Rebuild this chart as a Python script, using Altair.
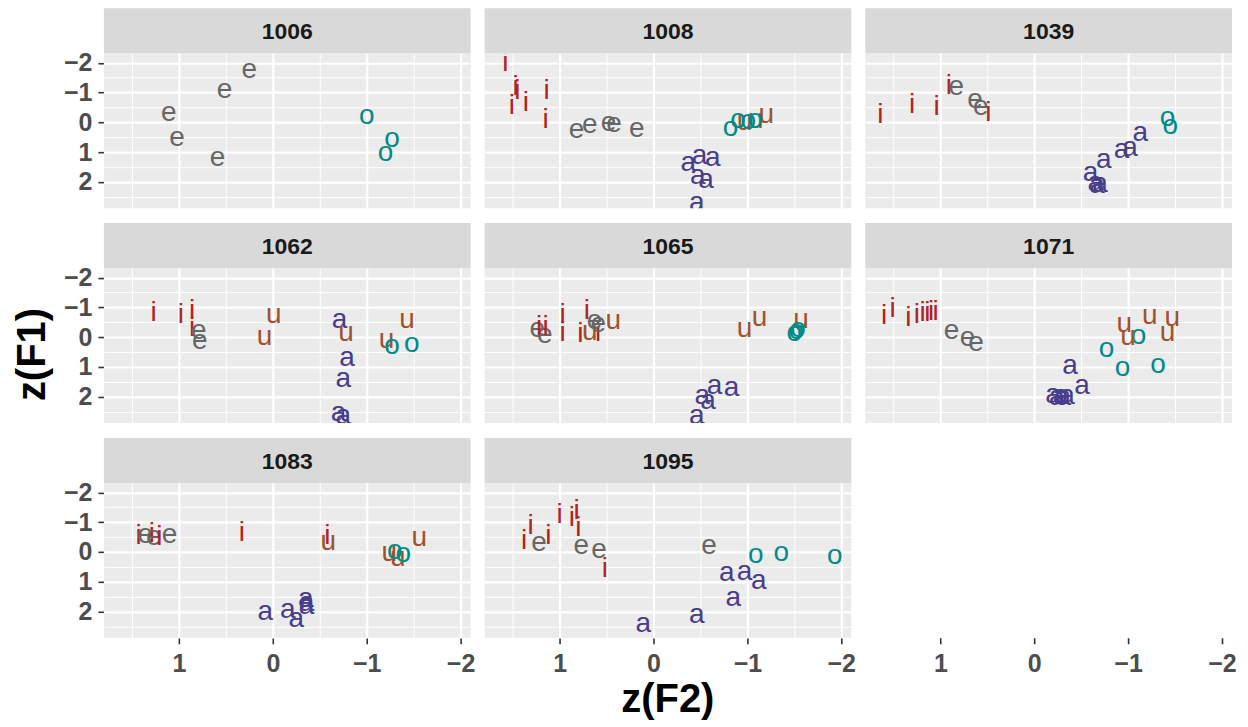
import altair as alt
import pandas as pd

FONT = "Liberation Sans"
VOWELS = ["i", "e", "a", "o", "u"]
VOWEL_COLORS = ["#B22222", "#666666", "#483D8B", "#008B8B", "#A0522D"]

# ---- per speaker data: vowel label, z(F2), z(F1) ----
s1006_v = ["e", "e", "e", "e", "e", "o", "o", "o"]
s1006_f2 = [0.25, 0.515, 1.11, 1.02, 0.59, -1.0, -1.27, -1.20]
s1006_f1 = [-1.77, -1.07, -0.32, 0.52, 1.19, -0.22, 0.56, 1.03]

s1008_v = ["i", "i", "i", "i", "i", "i", "i", "e", "e", "e", "e", "e",
           "u", "u", "u", "o", "o", "o", "o", "a", "a", "a", "a", "a", "a"]
s1008_f2 = [1.58, 1.47, 1.45, 1.51, 1.36, 1.14, 1.15, 0.82, 0.68, 0.48, 0.42, 0.18,
            -0.97, -1.09, -1.20, -0.82, -0.90, -1.01, -1.08, -0.37, -0.49, -0.63, -0.47, -0.56, -0.46]
s1008_f1 = [-2.0, -1.2, -1.05, -0.54, -0.65, -1.04, -0.09, 0.27, 0.08, 0.03, 0.06, 0.22,
            0.0, -0.09, -0.26, 0.19, -0.09, -0.03, -0.09, 1.36, 1.14, 1.19, 1.81, 1.92, 2.70]

s1039_v = ["i", "i", "i", "i", "i", "e", "e", "e", "a", "a", "a", "a", "a", "a", "a", "a", "o", "o"]
s1039_f2 = [1.64, 1.30, 1.04, 0.91, 0.49, 0.83, 0.63, 0.57, -0.60, -0.65, -0.67, -0.70,
            -0.74, -0.93, -1.02, -1.13, -1.42, -1.45]
s1039_f1 = [-0.26, -0.59, -0.52, -1.21, -0.32, -1.19, -0.76, -0.52, 1.70, 2.05, 2.10, 2.08,
            1.25, 0.92, 0.86, 0.36, -0.15, 0.13]

s1062_v = ["i", "i", "i", "i", "e", "e", "u", "u", "a", "u", "u", "u", "a", "a", "a", "a", "o", "o"]
s1062_f2 = [1.27, 0.98, 0.86, 0.86, 0.79, 0.78, -0.01, 0.09, -0.71, -0.78, -1.21, -1.43,
            -0.79, -0.75, -0.70, -0.75, -1.27, -1.48]
s1062_f1 = [-0.82, -0.76, -0.87, -0.31, -0.20, 0.13, -0.76, 0.0, -0.56, -0.15, 0.11, -0.59,
            0.71, 1.42, 2.54, 2.65, 0.30, 0.22]

s1065_v = ["e", "e", "i", "i", "i", "i", "i", "i", "u", "i", "e", "e", "u",
           "u", "u", "u", "o", "o", "o", "a", "a", "a", "a", "a"]
s1065_f2 = [1.24, 1.16, 1.22, 1.15, 0.97, 0.97, 0.71, 0.78, 0.68, 0.59, 0.63, 0.59, 0.43,
            -0.97, -1.13, -1.57, -1.50, -1.52, -1.54, -0.65, -0.83, -0.52, -0.58, -0.46]
s1065_f1 = [-0.26, -0.07, -0.34, -0.34, -0.76, -0.15, -0.87, -0.09, -0.18, -0.15, -0.54, -0.43, -0.54,
            -0.26, -0.65, -0.56, -0.15, -0.20, -0.26, 1.64, 1.70, 1.98, 2.15, 2.65]

s1071_v = ["i", "i", "i", "i", "i", "i", "i", "i", "e", "e", "e",
           "a", "a", "a", "a", "a", "a", "a", "o", "o", "o", "o", "u", "u", "u", "u", "u"]
s1071_f2 = [1.60, 1.51, 1.34, 1.25, 1.19, 1.14, 1.10, 1.05, 0.88, 0.71, 0.62,
            -0.38, -0.51, -0.20, -0.24, -0.28, -0.31, -0.35, -0.77, -0.94, -1.11, -1.32,
            -0.96, -1.0, -1.23, -1.47, -1.42]
s1071_f1 = [-0.70, -0.93, -0.65, -0.76, -0.82, -0.82, -0.84, -0.84, -0.20, 0.02, 0.19,
            0.97, 1.64, 1.95, 2.0, 1.98, 2.02, 1.97, 0.41, 1.03, -0.03, 0.92,
            -0.43, 0.0, -0.70, -0.65, -0.15]

s1083_v = ["i", "e", "i", "e", "i", "e", "i", "i", "u", "u", "u", "u", "o", "o",
           "a", "a", "a", "a", "a", "a"]
s1083_f2 = [1.43, 1.36, 1.29, 1.27, 1.21, 1.10, 0.33, -0.58, -0.59, -1.56, -1.24, -1.33, -1.30, -1.39,
            0.08, -0.16, -0.25, -0.36, -0.36, -0.35]
s1083_f1 = [-0.54, -0.56, -0.60, -0.52, -0.50, -0.56, -0.65, -0.54, -0.34, -0.48, 0.02, 0.19, -0.03, 0.08,
            2.03, 1.95, 2.26, 1.81, 1.70, 1.59]

s1095_v = ["i", "i", "e", "i", "i", "i", "i", "i", "e", "e", "i", "e", "o", "o", "o",
           "a", "a", "a", "a", "a", "a"]
s1095_f2 = [1.38, 1.31, 1.22, 1.12, 1.0, 0.87, 0.82, 0.80, 0.77, 0.58, 0.52, -0.59, -1.09, -1.36, -1.93,
            -0.78, -0.97, -1.12, -0.85, -0.46, 0.11]
s1095_f1 = [-0.37, -0.88, -0.31, -0.54, -1.25, -1.15, -1.38, -0.82, -0.20, -0.07, 0.58, -0.20, 0.11, 0.04, 0.13,
            0.71, 0.67, 0.97, 1.53, 2.12, 2.43]

SPEAKERS = {
    "1006": (s1006_v, s1006_f2, s1006_f1),
    "1008": (s1008_v, s1008_f2, s1008_f1),
    "1039": (s1039_v, s1039_f2, s1039_f1),
    "1062": (s1062_v, s1062_f2, s1062_f1),
    "1065": (s1065_v, s1065_f2, s1065_f1),
    "1071": (s1071_v, s1071_f2, s1071_f1),
    "1083": (s1083_v, s1083_f2, s1083_f1),
    "1095": (s1095_v, s1095_f2, s1095_f1),
}

X_DOMAIN = [-2.107, 1.80]
Y_DOMAIN = [-2.32, 2.88]
X_TICKS = [1.5, 1, 0.5, 0, -0.5, -1, -1.5, -2]
Y_TICKS = [-2, -1.5, -1, -0.5, 0, 0.5, 1, 1.5, 2, 2.5]

rows = []
for spk, (vs, f2s, f1s) in SPEAKERS.items():
    for v, f2, f1 in zip(vs, f2s, f1s):
        rows.append({"speaker": spk, "vowel": v, "zf2": f2, "zf1": f1})
df = pd.DataFrame(rows)

W, H, STRIP = 367, 155, 45
MINOR = "datum.value % 1 != 0"


def make_axis(vals, pad):
    return alt.Axis(
        values=vals,
        title=None,
        grid=True,
        gridColor="white",
        gridWidth={"condition": {"test": MINOR, "value": 1}, "value": 2.2},
        tickOpacity={"condition": {"test": MINOR, "value": 0}, "value": 1},
        labelExpr="datum.value % 1 == 0 ? format(datum.value, 'd') : ''",
        tickSize=6,
        tickWidth=1.6,
        tickColor="#333333",
        labelFont=FONT,
        labelFontSize=25,
        labelFontWeight="bold",
        labelColor="#4D4D4D",
        labelPadding=pad,
        labelFlush=False,
        labelOverlap=False,
        domain=False,
    )


xaxis = make_axis(X_TICKS, 8)
yaxis = make_axis(Y_TICKS, 6)

base = alt.Chart()

strip_rect = base.transform_aggregate(
    n="count()", groupby=["speaker"]
).mark_rect(color="#D9D9D9").encode(
    x=alt.value(0), x2=alt.value(W), y=alt.value(-STRIP), y2=alt.value(0)
)

strip_text = base.transform_aggregate(
    n="count()", groupby=["speaker"]
).mark_text(
    font=FONT, fontSize=23, fontWeight="bold", color="#1A1A1A", baseline="middle", align="center"
).encode(
    text="speaker:N", x=alt.value(W / 2), y=alt.value(-STRIP / 2 + 1.5)
)

letters = base.mark_text(
    font=FONT, fontSize=28, baseline="middle", align="center", clip=True
).encode(
    x=alt.X("zf2:Q", scale=alt.Scale(domain=X_DOMAIN, reverse=True, nice=False, zero=False), axis=xaxis),
    y=alt.Y("zf1:Q", scale=alt.Scale(domain=Y_DOMAIN, reverse=True, nice=False, zero=False), axis=yaxis),
    text="vowel:N",
    color=alt.Color("vowel:N", scale=alt.Scale(domain=VOWELS, range=VOWEL_COLORS), legend=None),
)

panel = alt.layer(letters, strip_rect, strip_text, data=df).properties(width=W, height=H)

faceted = panel.facet(
    facet=alt.Facet(
        "speaker:N",
        header=alt.Header(labels=False, title=None, labelExpr="''", labelFontSize=0, labelPadding=0),
    ),
    columns=3,
    spacing={"row": 15, "column": 14},
).properties(
    title=alt.TitleParams(
        "z(F1)", orient="left", anchor="middle", font=FONT, fontSize=40,
        fontWeight="bold", color="black", offset=10, dx=-12
    )
)

chart = alt.vconcat(faceted).properties(
    title=alt.TitleParams(
        "z(F2)", orient="bottom", anchor="middle", font=FONT, fontSize=40,
        fontWeight="bold", color="black", offset=3, dx=43
    ),
    padding={"left": 5, "top": 0, "right": 3, "bottom": 0},
).configure_view(fill="#EBEBEB", stroke=None).configure_header(labels=False, labelFontSize=0)

chart.save("out.html", embed_options={"renderer": "svg", "actions": False})
